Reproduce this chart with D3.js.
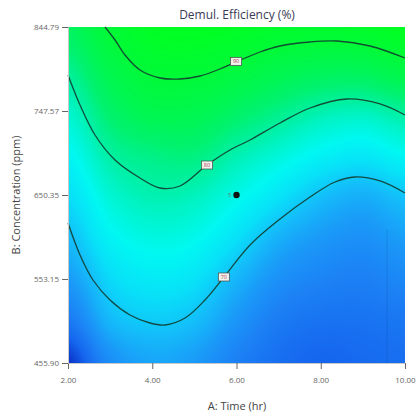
<!DOCTYPE html>
<html><head><meta charset="utf-8">
<script src="https://cdn.jsdelivr.net/npm/d3@7"></script>
<style>body{margin:0;background:#fff}svg{display:block}</style>
</head><body>
<script>
// Axis ticks
const timeTicks = [2, 4, 6, 8, 10];
const concTicks = [455.90, 553.15, 650.35, 747.57, 844.79];

// Response grid: efficiency (%) at Time = 2..10 hr, one row per concentration level (top to bottom)
const gridTime = [2, 3, 4, 5, 6, 7, 8, 9, 10];
const gridConc = [844.79, 796.18, 747.57, 698.96, 650.35, 601.74, 553.15, 504.51, 455.90];
const eff844 = [84.5, 90.5, 94.4, 95.0, 94.1, 92.4, 92.3, 92.8, 95.4];
const eff796 = [81.0, 87.0, 90.6, 90.8, 89.2, 87.1, 85.8, 85.8, 88.1];
const eff748 = [77.6, 83.6, 86.7, 86.6, 84.2, 81.7, 79.5, 78.7, 80.5];
const eff699 = [74.7, 80.1, 82.0, 82.4, 79.5, 77.0, 74.5, 73.2, 75.1];
const eff650 = [71.9, 77.1, 79.2, 78.6, 75.8, 72.6, 69.5, 68.0, 69.8];
const eff602 = [69.1, 74.3, 76.2, 75.5, 72.2, 68.2, 66.0, 65.0, 66.5];
const eff553 = [66.0, 71.4, 73.2, 72.3, 68.5, 65.0, 63.5, 63.0, 64.0];
const eff505 = [62.0, 68.6, 70.2, 69.2, 65.5, 62.5, 61.5, 61.5, 62.0];
const eff456 = [57.0, 64.5, 67.0, 66.0, 63.0, 61.0, 60.0, 60.5, 61.0];
const effGrid = [eff844, eff796, eff748, eff699, eff650, eff602, eff553, eff505, eff456];

// Contour lines [time, concentration]
const contourLevels = [90, 80, 70];
const contour90 = [[2.878,844.79],[3.116,829.74],[3.353,812.39],[3.709,795.03],[4.184,785.77],[4.659,784.61],[5.134,788.08],[5.608,796.18],[5.988,804.28],[6.558,815.86],[7.033,822.80],[7.745,827.43],[8.386,828.59],[9.169,822.80],[10.0,808.91]];
const contour80 = [[2.0,789.23],[2.285,754.51],[2.641,719.79],[3.116,690.85],[3.709,670.02],[4.184,658.45],[4.659,660.76],[5.300,685.07],[5.846,702.43],[6.321,714.00],[7.033,733.68],[7.745,751.04],[8.623,761.46],[9.407,755.67],[10.0,742.94]];
const contour70 = [[2.0,617.94],[2.285,580.90],[2.593,551.97],[2.997,528.82],[3.472,511.46],[3.947,502.20],[4.303,499.88],[4.778,507.98],[5.252,528.82],[5.703,555.44],[6.321,592.48],[7.033,622.57],[7.745,648.04],[8.338,665.40],[8.813,671.19],[9.407,666.56],[10.0,652.67]];
const contours = [contour90, contour80, contour70];
const contourLabelAt = [[5.99, 805.0], [5.30, 685.07], [5.70, 555.44]];
const faintEdge = [[9.573, 609.8], [9.573, 455.9]];

// Design centre point and its replicate count
const centerPoint = [6.00, 650.35];
const centerReps = 5;

// Colour ramp for efficiency
const rampValues = [57, 60, 63, 66, 69, 72, 75, 78, 80, 83, 86, 90, 95];
const rampColors = ["#0a35c8","#1566ee","#1c80f5","#1a9af8","#14bcfa","#08e0f8","#00f8f2","#00f4c6","#00f0a2","#00f270","#00f652","#00fa38","#00ff22"];

const W = 417, H = 419;
const x = d3.scaleLinear().domain([2, 10]).range([68, 405]);
const y = d3.scaleLinear().domain([455.90, 844.79]).range([363, 27]);
const color = d3.scaleLinear().domain(rampValues).range(rampColors).interpolate(d3.interpolateRgb).clamp(true);

const svg = d3.select("body").append("svg").attr("width", W).attr("height", H)
  .style("font-family", "'Open Sans', 'Noto Sans', sans-serif");

// Smooth (Catmull-Rom) sampling of the response grid
function cr(p0, p1, p2, p3, t) {
  return 0.5 * ((2 * p1) + (-p0 + p2) * t + (2 * p0 - 5 * p1 + 4 * p2 - p3) * t * t + (-p0 + 3 * p1 - 3 * p2 + p3) * t * t * t);
}
const nR = gridConc.length, nC = gridTime.length;
function g(r, c) {
  r = Math.max(0, Math.min(nR - 1, r)); c = Math.max(0, Math.min(nC - 1, c));
  return effGrid[r][c];
}
function sample(t, conc) {
  const fc = (t - gridTime[0]) / (gridTime[nC - 1] - gridTime[0]) * (nC - 1);
  const fr = (gridConc[0] - conc) / (gridConc[0] - gridConc[nR - 1]) * (nR - 1);
  const c0 = Math.floor(fc), r0 = Math.floor(fr);
  const tc = fc - c0, tr = fr - r0;
  const rows = [];
  for (let i = -1; i <= 2; i++) {
    rows.push(cr(g(r0 + i, c0 - 1), g(r0 + i, c0), g(r0 + i, c0 + 1), g(r0 + i, c0 + 2), tc));
  }
  return cr(rows[0], rows[1], rows[2], rows[3], tr);
}

// Filled surface raster
const pw = Math.round(x(10) - x(2)), ph = Math.round(y(455.90) - y(844.79));
const cv = document.createElement("canvas");
cv.width = pw; cv.height = ph;
const ctx = cv.getContext("2d");
const img = ctx.createImageData(pw, ph);
for (let j = 0; j < ph; j++) {
  const conc = y.invert(y(844.79) + j + 0.5);
  for (let i = 0; i < pw; i++) {
    const t = x.invert(x(2) + i + 0.5);
    const c = d3.rgb(color(sample(t, conc)));
    const k = (j * pw + i) * 4;
    img.data[k] = c.r; img.data[k + 1] = c.g; img.data[k + 2] = c.b; img.data[k + 3] = 255;
  }
}
ctx.putImageData(img, 0, 0);
svg.append("image").attr("x", x(2)).attr("y", y(844.79)).attr("width", pw).attr("height", ph)
  .attr("preserveAspectRatio", "none").attr("href", cv.toDataURL());

// Contour lines
const line = d3.line().x(d => x(d[0])).y(d => y(d[1])).curve(d3.curveCatmullRom.alpha(0.5));
svg.append("g").selectAll("path").data(contours).join("path")
  .attr("d", line).attr("fill", "none").attr("stroke", "#123c30").attr("stroke-opacity", 0.9).attr("stroke-width", 1.3);
svg.append("path").attr("d", d3.line().x(d => x(d[0])).y(d => y(d[1]))(faintEdge))
  .attr("fill", "none").attr("stroke", "#0b3a8a").attr("stroke-opacity", 0.18).attr("stroke-width", 1);

// Contour labels
const lab = svg.append("g").selectAll("g").data(contourLabelAt).join("g")
  .attr("transform", d => `translate(${x(d[0])},${y(d[1])})`);
lab.append("rect").attr("x", -5.5).attr("y", -4).attr("width", 11).attr("height", 8)
  .attr("fill", "#eef3ee").attr("stroke", "#555").attr("stroke-width", 0.8);
lab.append("text").text((d, i) => contourLevels[i]).attr("text-anchor", "middle").attr("dy", "0.35em")
  .attr("font-size", 5.5).attr("fill", "#b8404e");

// Centre point
svg.append("circle").attr("cx", x(centerPoint[0])).attr("cy", y(centerPoint[1])).attr("r", 3.2).attr("fill", "#111");
svg.append("text").attr("x", x(centerPoint[0]) - 5).attr("y", y(centerPoint[1])).attr("dy", "0.35em")
  .attr("text-anchor", "end").attr("font-size", 6).attr("fill", "#777").text(centerReps);

// Axes
const xAxis = svg.append("g").attr("transform", `translate(0,${y(455.90)})`)
  .call(d3.axisBottom(x).tickValues(timeTicks).tickFormat(d3.format(".2f")).tickSize(6).tickPadding(8));
const yAxis = svg.append("g").attr("transform", `translate(${x(2)},0)`)
  .call(d3.axisLeft(y).tickValues(concTicks).tickFormat(d => d.toFixed(2)).tickSize(6).tickPadding(3));
[xAxis, yAxis].forEach(a => {
  a.select(".domain").attr("stroke", "#c8c8c8");
  a.selectAll(".tick line").attr("stroke", "#666");
  a.selectAll(".tick text").attr("fill", "#666").attr("font-size", 8).style("font-family", "'Open Sans', 'Noto Sans', sans-serif");
});

// Titles
svg.append("text").attr("x", 237).attr("y", 15).attr("dy", "0.35em").attr("text-anchor", "middle")
  .attr("font-size", 12).attr("fill", "#3a3a56").text("Demul. Efficiency (%)");
svg.append("text").attr("x", 237).attr("y", 406).attr("dy", "0.35em").attr("text-anchor", "middle")
  .attr("font-size", 11).attr("fill", "#444").text("A: Time (hr)");
svg.append("text").attr("transform", "translate(16,195) rotate(-90)").attr("dy", "0.35em").attr("text-anchor", "middle")
  .attr("font-size", 11).attr("fill", "#444").text("B: Concentration (ppm)");
</script>
</body></html>
